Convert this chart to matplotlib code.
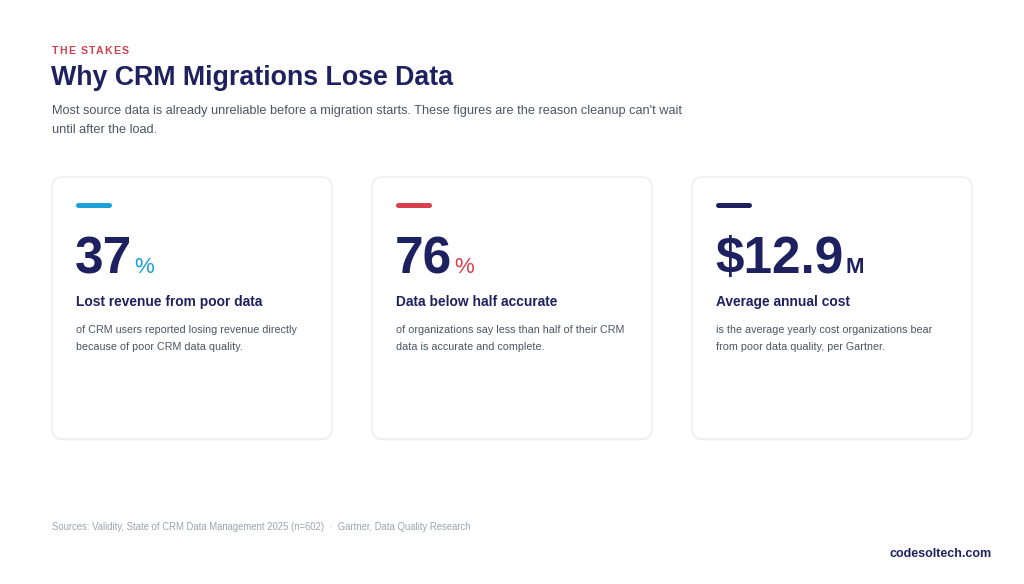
import matplotlib
matplotlib.use('Agg')
from matplotlib import pyplot as plt
from matplotlib.patches import FancyBboxPatch

plt.rcParams['font.family'] = ['Liberation Sans', 'DejaVu Sans']

# content
eyebrow = 'THE STAKES'
title = 'Why CRM Migrations Lose Data'
subtitle = ['Most source data is already unreliable before a migration starts. These figures are the reason cleanup can\'t wait',
            'until after the load.']
values = ['37', '76', '$12.9']
suffixes = ['%', '%', 'M']
headings = ['Lost revenue from poor data', 'Data below half accurate', 'Average annual cost']
bodies = [['of CRM users reported losing revenue directly', 'because of poor CRM data quality.'],
          ['of organizations say less than half of their CRM', 'data is accurate and complete.'],
          ['is the average yearly cost organizations bear', 'from poor data quality, per Gartner.']]
sources = 'Sources: Validity, State of CRM Data Management 2025 (n=602)  \u00b7  Gartner, Data Quality Research'
brand = 'codesoltech.com'

navy = '#1e2160'
accent = ['#1ba1d8', '#d8404c', navy]
suffix_color = ['#1ba1d8', '#d8404c', navy]

fig = plt.figure(figsize=(10.24, 5.84), dpi=100)
fig.patch.set_facecolor('white')
ax = fig.add_axes([0, 0, 1, 1])
ax.set_xlim(0, 1024)
ax.set_ylim(584, 0)
ax.axis('off')
renderer = fig.canvas.get_renderer()


def px_width(t):
    bb = t.get_window_extent(renderer=renderer)
    return bb.width


# eyebrow with letter spacing
x = 52
for ch in eyebrow:
    t = ax.text(x, 51, ch, fontsize=7.6, fontweight='bold', color='#d0414f', va='center', ha='left')
    x += px_width(t) + 1.1 if ch != ' ' else 4.0

ax.text(51, 78, title, fontsize=19.3, fontweight='bold', color=navy, va='center', ha='left')
for i, line in enumerate(subtitle):
    ax.text(52, 111 + i * 19, line, fontsize=9.15, color='#4b5563', va='center', ha='left')

card_x = [52, 372, 692]
card_w = 280
card_top = 177
card_h = 262
for i in range(3):
    cx = card_x[i]
    shadow = FancyBboxPatch((cx, card_top + 1.5), card_w, card_h,
                            boxstyle='round,pad=0,rounding_size=10',
                            facecolor='#f3f4f6', edgecolor='none')
    ax.add_patch(shadow)
    card = FancyBboxPatch((cx, card_top), card_w, card_h,
                          boxstyle='round,pad=0,rounding_size=10',
                          facecolor='white', edgecolor='#eaecef', linewidth=0.9)
    ax.add_patch(card)
    ax.plot([cx + 26, cx + 57], [204.5, 204.5], color=accent[i], linewidth=3.6,
            solid_capstyle='round')
    big = ax.text(cx + 23, 273, values[i], fontsize=37, fontweight='bold', color=navy,
                  va='baseline', ha='left')
    w = px_width(big)
    ax.text(cx + 23 + w + 2, 273, suffixes[i], fontsize=16, fontweight='bold' if suffixes[i] == 'M' else 'normal',
            color=suffix_color[i], va='baseline', ha='left')
    ax.text(cx + 24, 302, headings[i], fontsize=9.9, fontweight='bold', color=navy,
            va='center', ha='left')
    for j, line in enumerate(bodies[i]):
        ax.text(cx + 24, 330 + j * 17, line, fontsize=7.75, color='#4b5563',
                va='center', ha='left')

ax.text(52, 527, sources, fontsize=6.85, color='#9ca3af', va='center', ha='left')
ax.text(992, 554, brand, fontsize=9, fontweight='bold', color=navy, va='center', ha='right')

fig.savefig('out.png', dpi=100, facecolor='white')
